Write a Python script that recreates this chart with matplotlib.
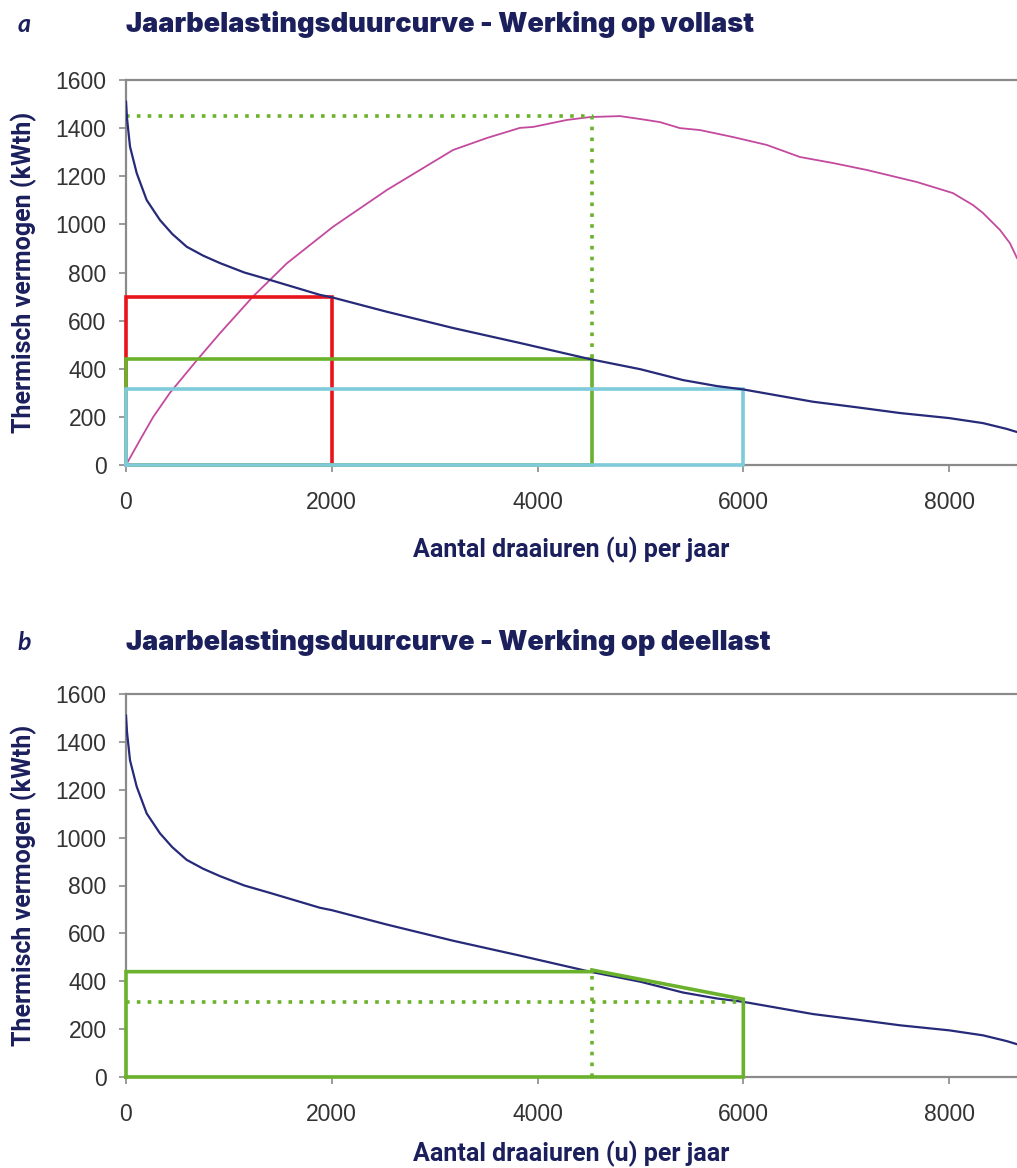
import matplotlib
matplotlib.use("Agg")
import matplotlib.pyplot as plt
from matplotlib import font_manager as fm

# ---- data ----
hours = [0, 10, 39, 104, 201, 330, 450, 590, 750, 914, 1150, 1400, 1885, 2000, 2534, 3182,
         3830, 4509, 5000, 5413, 5743, 6000, 6676, 7100, 7522, 8000, 8330, 8560, 8660]
load = [1510, 1440, 1323, 1213, 1101, 1018, 960, 907, 870, 839, 800, 769, 707, 697, 637, 569,
        507, 440, 398, 353, 328, 314, 263, 240, 216, 195, 174, 150, 137]

energy_hours = [0, 136, 265, 427, 690, 914, 1234, 1563, 2012, 2536, 2857, 3178, 3508, 3829,
                3958, 4286, 4509, 4800, 4995, 5190, 5384, 5578, 5899, 6229, 6550, 6871,
                7201, 7522, 7687, 8037, 8233, 8330, 8494, 8591, 8660]
energy = [0, 104, 200, 300, 436, 548, 700, 838, 990, 1143, 1226, 1309, 1359, 1401,
          1405, 1434, 1446, 1450, 1438, 1425, 1400, 1392, 1363, 1330, 1280, 1255,
          1226, 1193, 1176, 1130, 1080, 1047, 977, 922, 860]

# rectangles (width in hours, height in kWth)
rect_red = (2000, 700)
rect_green = (4530, 440)
rect_blue = (6000, 315)
peak_energy = 1452

# part load outline (panel b)
part_x = [0, 0, 4530, 4530, 6000, 6000, 0]
part_y = [0, 440, 440, 447, 325, 0, 0]
part_dot_level = 315

x_ticks = [0, 2000, 4000, 6000, 8000]
y_ticks = [0, 200, 400, 600, 800, 1000, 1200, 1400, 1600]
titles = ["Jaarbelastingsduurcurve - Werking op vollast",
          "Jaarbelastingsduurcurve - Werking op deellast"]
letters = ["a", "b"]
xlabel = "Aantal draaiuren (u) per jaar"
ylabel = "Thermisch vermogen (kWth)"

NAVY = "#262a78"
TXT = "#1b1f5c"
MAG = "#c34a9e"
RED = "#e8141c"
GREEN = "#6bb22c"
BLUE = "#7fcadb"
GRAY = "#8a8a8a"

names = {f.name for f in fm.fontManager.ttflist}
cond = "Liberation Sans Narrow" if "Liberation Sans Narrow" in names else "Roboto"
tfont = "Inter" if "Inter" in names else "Lato"
plt.rcParams["font.family"] = ["Liberation Sans", "DejaVu Sans"]

W, H = 1017, 1168
fig = plt.figure(figsize=(W / 100, H / 100), dpi=100)


def make_axes(top_px, bot_px, xpad):
    ax = fig.add_axes([126 / W, 1 - bot_px / H, 1 - 126 / W, (bot_px - top_px) / H])
    ax.set_xlim(0, 8660)
    ax.set_ylim(0, 1600)
    ax.set_xticks(x_ticks)
    ax.set_yticks(y_ticks)
    for s in ["left", "top", "bottom"]:
        ax.spines[s].set_color(GRAY)
        ax.spines[s].set_linewidth(1.6)
    ax.spines["right"].set_visible(False)
    ax.tick_params(axis="both", direction="out", length=5, width=1.2, color=GRAY,
                   labelsize=16.5, labelcolor="#333333")
    ax.tick_params(axis="x", pad=14)
    ax.tick_params(axis="y", pad=9)
    ax.set_xlabel(xlabel, fontsize=18, color=TXT, fontfamily=cond, fontweight="bold", labelpad=xpad)
    ax.set_ylabel(ylabel, fontsize=18, color=TXT, fontfamily=cond, fontweight="bold", labelpad=13)
    return ax


def rect(ax, w, h, color, z):
    ax.plot([0, 0, w, w, 0], [0, h, h, 0, 0], color=color, lw=2.6, zorder=z,
            clip_on=False, solid_joinstyle="miter")


# ---- panel a ----
ax1 = make_axes(80, 465, 16)
ax1.plot(energy_hours, energy, color=MAG, lw=1.3, zorder=2)
rect(ax1, *rect_red, RED, 3)
rect(ax1, *rect_green, GREEN, 4)
rect(ax1, *rect_blue, BLUE, 5)
ax1.plot(hours, load, color=NAVY, lw=1.6, zorder=6)
ax1.plot([0, rect_green[0], rect_green[0]], [peak_energy, peak_energy, rect_green[1]],
         color=GREEN, lw=2.6, ls=(0, (1, 2)), zorder=4)

# ---- panel b ----
ax2 = make_axes(694, 1077, 10)
ax2.plot(hours, load, color=NAVY, lw=1.6, zorder=3)
ax2.plot(part_x, part_y, color=GREEN, lw=2.6, zorder=5, clip_on=False, solid_joinstyle="miter")
ax2.plot([0, rect_blue[0]], [part_dot_level, part_dot_level], color=GREEN, lw=2.6,
         ls=(0, (1, 2)), zorder=4)
ax2.plot([4530, 4530], [0, 440], color=GREEN, lw=2.6, ls=(0, (1, 2)), zorder=4)

# titles
for title, letter, ypx in zip(titles, letters, [25, 642]):
    fig.text(126 / W, 1 - ypx / H, title, fontsize=19.5, fontweight="black", color=TXT,
             fontfamily=tfont, va="center", ha="left")
    fig.text(18 / W, 1 - ypx / H, letter, fontsize=18, fontweight="bold", fontstyle="italic",
             color=TXT, fontfamily="Lato", va="center", ha="left")

fig.savefig("out.png", dpi=100)
